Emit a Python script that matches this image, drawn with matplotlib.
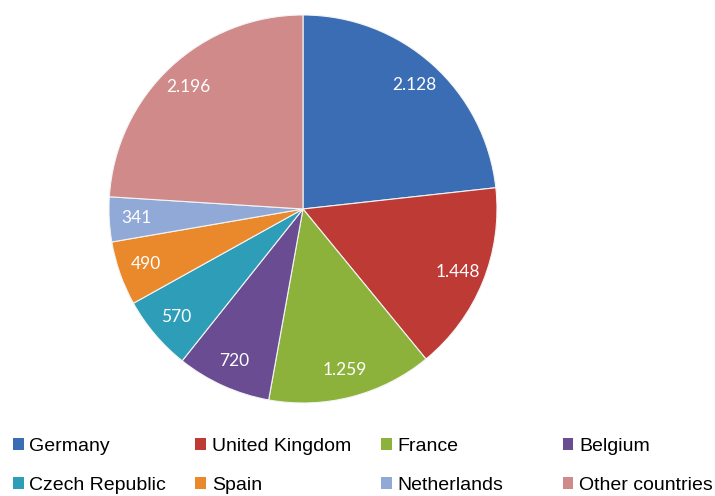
import matplotlib
matplotlib.use("Agg")
import matplotlib.pyplot as plt
from matplotlib.patches import Patch
import numpy as np

countries = ["Germany", "United Kingdom", "France", "Belgium",
             "Czech Republic", "Spain", "Netherlands", "Other countries"]
values = [2128, 1448, 1259, 720, 570, 490, 341, 2196]
value_labels = ["2.128", "1.448", "1.259", "720", "570", "490", "341", "2.196"]
colors = ["#3A6DB3", "#BE3A34", "#8DB23C", "#6A4C93",
          "#2E9DB8", "#E9892C", "#90A9D6", "#CF8A89"]

fig = plt.figure(figsize=(7.15, 4.96), dpi=100)
ax = fig.add_axes([0.1524, 0.1875, 0.5427, 0.7823])

wedges, _ = ax.pie(values, colors=colors, startangle=90, counterclock=False,
                   wedgeprops=dict(edgecolor="#f4f4f4", linewidth=0.8))
ax.set_xlim(-1.0, 1.0)
ax.set_ylim(-1.0, 1.0)
ax.set_aspect("equal")

total = float(sum(values))
ang = 90.0
for w, lab, v in zip(wedges, value_labels, values):
    span = v / total * 360.0
    mid = np.deg2rad(ang - span / 2)
    r = 0.86
    ax.text(r * np.cos(mid), r * np.sin(mid), lab, ha="center", va="center",
            color="white", fontsize=12.5, family=["Lato", "DejaVu Sans"])
    ang -= span

# legend: four columns of two entries each
col_x = [0.018, 0.273, 0.533, 0.787]
for c in range(4):
    idx = [c, c + 4]
    handles = [Patch(facecolor=colors[i], edgecolor="none") for i in idx]
    fig.legend(handles, [countries[i] for i in idx], loc="upper left",
               bbox_to_anchor=(col_x[c], 0.117), frameon=False,
               prop=dict(family="Liberation Sans", size=14),
               handlelength=0.55, handleheight=0.55, handletextpad=0.3,
               labelspacing=1.12, borderaxespad=0, borderpad=0)

fig.savefig("out.png", dpi=100)
